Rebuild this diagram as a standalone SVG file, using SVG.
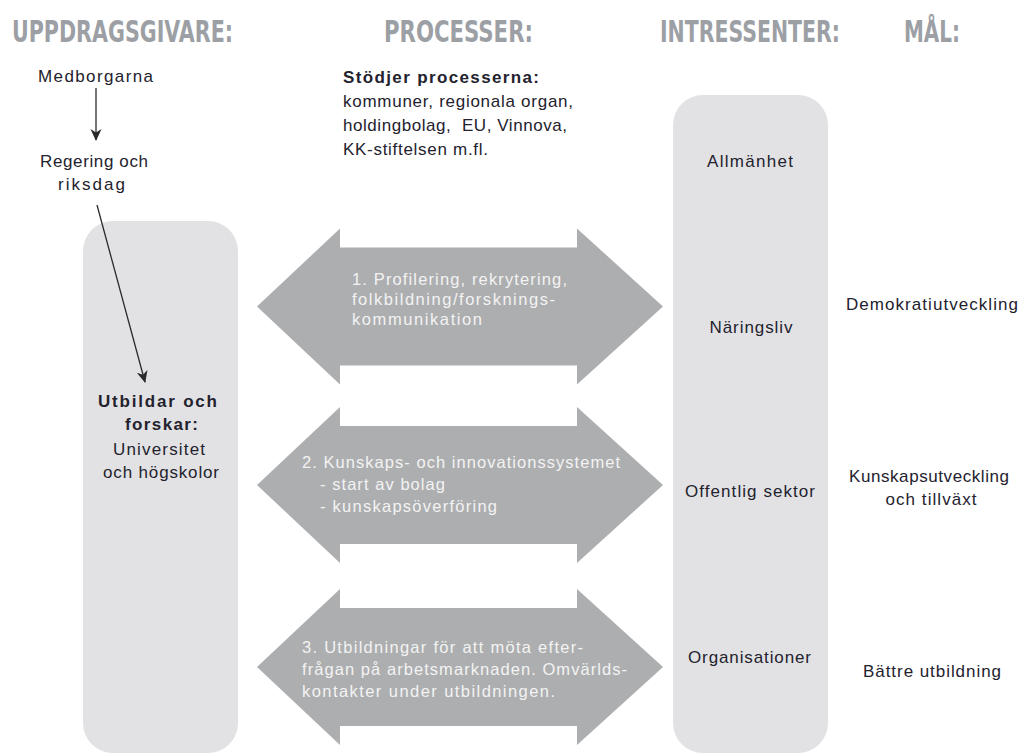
<svg xmlns="http://www.w3.org/2000/svg" width="1021" height="754" viewBox="0 0 1021 754">
<style>
.hdr{font-family:"DejaVu Sans Condensed","DejaVu Sans",sans-serif;font-stretch:condensed;font-weight:bold;font-size:30px;fill:#9ca0a5}
.t{font-family:"Liberation Sans",Arial,sans-serif;font-size:17px;fill:#23222e}
.b{font-weight:bold}
.w{font-family:"Liberation Sans",Arial,sans-serif;font-size:16.5px;fill:#f3f3f3}
.box{fill:#e2e2e4}
.arr{fill:#adaeb0}
.ln{stroke:#2a2a2a;stroke-width:1.3;fill:none}
</style>
<defs>
<path id="dbl" d="M257,0 L340,-78 L340,-59 L577,-59 L577,-78 L663,0 L577,78 L577,59 L340,59 L340,78 Z"/>
<marker id="ah" markerWidth="13" markerHeight="13" refX="11" refY="6.5" orient="auto" markerUnits="userSpaceOnUse">
<path d="M0,1 L12,6.5 L0,12 L3.5,6.5 Z" fill="#2a2a2a"/>
</marker>
</defs>
<rect width="1021" height="754" fill="#ffffff"/>

<g id="headers">
<text class="hdr" x="12" y="42" textLength="221" lengthAdjust="spacingAndGlyphs">UPPDRAGSGIVARE:</text>
<text class="hdr" x="384" y="42" textLength="149" lengthAdjust="spacingAndGlyphs">PROCESSER:</text>
<text class="hdr" x="660" y="42" textLength="180" lengthAdjust="spacingAndGlyphs">INTRESSENTER:</text>
<text class="hdr" x="904" y="42" textLength="56" lengthAdjust="spacingAndGlyphs">MÅL:</text>
</g>

<g id="medborgarna">
<text class="t" x="95.5" y="82" text-anchor="middle" textLength="115" lengthAdjust="spacing">Medborgarna</text>
</g>
<g id="regering">
<text class="t" x="94" y="167" text-anchor="middle" textLength="108" lengthAdjust="spacing">Regering och</text>
<text class="t" x="91.5" y="190" text-anchor="middle" textLength="67" lengthAdjust="spacing">riksdag</text>
</g>

<g id="stodjer">
<text class="t b" x="343" y="83" textLength="196" lengthAdjust="spacing">Stödjer processerna:</text>
<text class="t" x="343" y="107" textLength="230" lengthAdjust="spacing">kommuner, regionala organ,</text>
<text class="t" x="343" y="131" textLength="224" lengthAdjust="spacing" xml:space="preserve">holdingbolag,  EU, Vinnova,</text>
<text class="t" x="343" y="155" textLength="145" lengthAdjust="spacing">KK-stiftelsen m.fl.</text>
</g>

<g id="universitet">
<rect class="box" x="83" y="221" width="155" height="532" rx="30"/>
<text class="t b" x="157.5" y="407" text-anchor="middle" textLength="119" lengthAdjust="spacing">Utbildar och</text>
<text class="t b" x="161.5" y="430" text-anchor="middle" textLength="73" lengthAdjust="spacing">forskar:</text>
<text class="t" x="159" y="455" text-anchor="middle" textLength="92" lengthAdjust="spacing">Universitet</text>
<text class="t" x="161" y="478" text-anchor="middle" textLength="116" lengthAdjust="spacing">och högskolor</text>
</g>

<g id="intressenter">
<rect class="box" x="673" y="95" width="155" height="658" rx="30"/>
<text class="t" x="750" y="167" text-anchor="middle" textLength="86" lengthAdjust="spacing">Allmänhet</text>
<text class="t" x="751" y="333" text-anchor="middle" textLength="83" lengthAdjust="spacing">Näringsliv</text>
<text class="t" x="750" y="497" text-anchor="middle" textLength="130" lengthAdjust="spacing">Offentlig sektor</text>
<text class="t" x="749.5" y="663" text-anchor="middle" textLength="123" lengthAdjust="spacing">Organisationer</text>
</g>

<g id="process1">
<use href="#dbl" class="arr" transform="translate(0,306.5)"/>
<text class="w" x="352" y="285" textLength="215" lengthAdjust="spacing">1. Profilering, rekrytering,</text>
<text class="w" x="352" y="305" textLength="203" lengthAdjust="spacing">folkbildning/forsknings-</text>
<text class="w" x="352" y="325" textLength="130" lengthAdjust="spacing">kommunikation</text>
</g>

<g id="process2">
<use href="#dbl" class="arr" transform="translate(0,485)"/>
<text class="w" x="302" y="468" textLength="318" lengthAdjust="spacing">2. Kunskaps- och innovationssystemet</text>
<text class="w" x="320" y="490" textLength="125" lengthAdjust="spacing">- start av bolag</text>
<text class="w" x="320" y="512" textLength="177" lengthAdjust="spacing">- kunskapsöverföring</text>
</g>

<g id="process3">
<use href="#dbl" class="arr" transform="translate(0,667)"/>
<text class="w" x="302" y="653" textLength="281" lengthAdjust="spacing">3. Utbildningar för att möta efter-</text>
<text class="w" x="302" y="675" textLength="325" lengthAdjust="spacing">frågan på arbetsmarknaden. Omvärlds-</text>
<text class="w" x="302" y="697" textLength="253" lengthAdjust="spacing">kontakter under utbildningen.</text>
</g>

<g id="goals">
<text class="t" x="932" y="310" text-anchor="middle" textLength="172" lengthAdjust="spacing">Demokratiutveckling</text>
<text class="t" x="929" y="482" text-anchor="middle" textLength="160" lengthAdjust="spacing">Kunskapsutveckling</text>
<text class="t" x="931" y="505" text-anchor="middle" textLength="91" lengthAdjust="spacing">och tillväxt</text>
<text class="t" x="932" y="677" text-anchor="middle" textLength="138" lengthAdjust="spacing">Bättre utbildning</text>
</g>

<g id="connectors">
<line class="ln" x1="96" y1="88" x2="96" y2="140" marker-end="url(#ah)"/>
<line class="ln" x1="97" y1="205" x2="145" y2="382" marker-end="url(#ah)"/>
</g>
</svg>
